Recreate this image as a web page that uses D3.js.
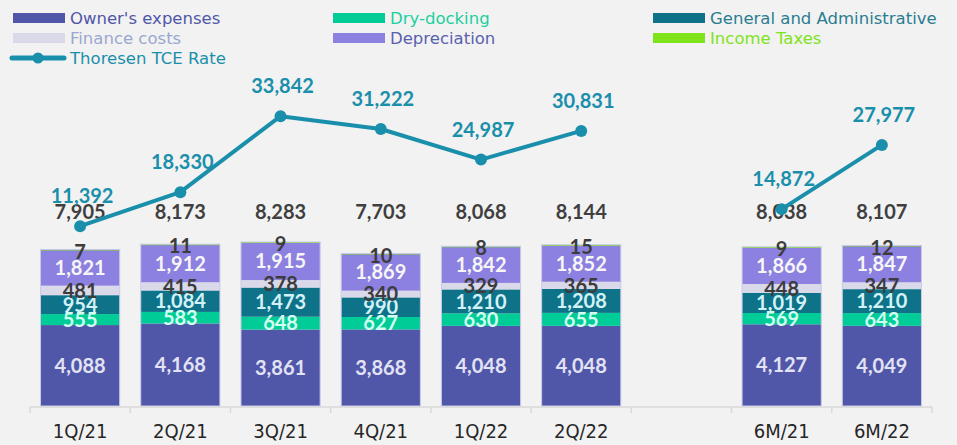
<!DOCTYPE html>
<html>
<head>
<meta charset="utf-8">
<script src="https://cdn.jsdelivr.net/npm/d3@7"></script>
<style>
  html, body { margin: 0; padding: 0; background: #f2f2f2; }
  svg { display: block; }
</style>
</head>
<body>
<div id="chart"></div>
<script>
// categories (the blank slot separates quarters from half-years)
const categories = ['1Q/21', '2Q/21', '3Q/21', '4Q/21', '1Q/22', '2Q/22', ' ', '6M/21', '6M/22'];

// cost components, USD/day
const ownersExpenses = [4088, 4168, 3861, 3868, 4048, 4048, null, 4127, 4049];
const dryDocking     = [555, 583, 648, 627, 630, 655, null, 569, 643];
const generalAdmin   = [954, 1084, 1473, 990, 1210, 1208, null, 1019, 1210];
const financeCosts   = [481, 415, 378, 340, 329, 365, null, 448, 347];
const depreciation   = [1821, 1912, 1915, 1869, 1842, 1852, null, 1866, 1847];
const incomeTaxes    = [7, 11, 9, 10, 8, 15, null, 9, 12];
const totals         = [7905, 8173, 8283, 7703, 8068, 8144, null, 8038, 8107];

// Thoresen TCE rate, USD/day
const tceRate = [11392, 18330, 33842, 31222, 24987, 30831, null, 14872, 27977];

const width = 957;
const height = 445;

const series = [
  { key: 'own', name: "Owner's expenses", values: ownersExpenses, fill: '#5057a8', label: '#e2e2f4', legend: '#5057a8' },
  { key: 'dry', name: 'Dry-docking', values: dryDocking, fill: '#00cc98', label: '#d4fff0', legend: '#1ccf9f' },
  { key: 'ga', name: 'General and Administrative', values: generalAdmin, fill: '#0e7389', label: '#d3f2f7', legend: '#2a7d90' },
  { key: 'fin', name: 'Finance costs', values: financeCosts, fill: '#d9d9ea', label: '#3c3c3c', legend: '#9aa8cf' },
  { key: 'dep', name: 'Depreciation', values: depreciation, fill: '#8c80e0', label: '#f6f6f6', legend: '#5a5fb0' },
  { key: 'tax', name: 'Income Taxes', values: incomeTaxes, fill: '#7ee31a', label: '#3c3c3c', legend: '#7ee31a' }
];

const lineColor = '#1a8fab';

const svg = d3.select('#chart')
  .append('svg')
  .attr('width', width)
  .attr('height', height);

svg.append('rect')
  .attr('width', width)
  .attr('height', height)
  .attr('fill', '#f2f2f2');

// scales
const xScale = d3.scaleBand()
  .domain(categories)
  .range([30, 932])
  .paddingInner(0.21)
  .paddingOuter(0.105);

const yScale = d3.scaleLinear()
  .domain([0, 10000])
  .range([406, 208]);

const y2Scale = d3.scaleLinear()
  .domain([0, 40000])
  .range([282, 86]);

// stacked data
const rows = categories.map((c, i) => {
  const r = { cat: c };
  series.forEach(s => { r[s.key] = s.values[i] == null ? 0 : s.values[i]; });
  return r;
});
const stack = d3.stack().keys(series.map(s => s.key));
const stacked = stack(rows);

const bars = svg.append('g');
stacked.forEach((layer, li) => {
  const s = series[li];
  bars.selectAll('rect.' + s.key)
    .data(layer.filter((d, i) => s.values[i] != null))
    .enter()
    .append('rect')
    .attr('class', s.key)
    .attr('x', d => xScale(d.data.cat))
    .attr('width', xScale.bandwidth())
    .attr('y', d => yScale(d[1]))
    .attr('height', d => Math.max(yScale(d[0]) - yScale(d[1]), 1))
    .attr('fill', s.fill);
});

// thin outline round each bar
bars.selectAll('rect.outline')
  .data(rows.filter((r, i) => totals[i] != null))
  .enter()
  .append('rect')
  .attr('class', 'outline')
  .attr('x', d => xScale(d.cat))
  .attr('width', xScale.bandwidth())
  .attr('y', d => yScale(series.reduce((a, s) => a + d[s.key], 0)))
  .attr('height', d => yScale(0) - yScale(series.reduce((a, s) => a + d[s.key], 0)))
  .attr('fill', 'none')
  .attr('stroke', '#c9c9ec')
  .attr('stroke-width', 1);

// segment labels
const fmt = d3.format(',');
const labels = svg.append('g')
  .attr('font-family', 'Lato, sans-serif')
  .attr('font-weight', 'bold')
  .attr('font-size', 20)
  .attr('text-anchor', 'middle');

stacked.forEach((layer, li) => {
  const s = series[li];
  labels.selectAll('text.' + s.key)
    .data(layer.filter((d, i) => s.values[i] != null))
    .enter()
    .append('text')
    .attr('class', s.key)
    .attr('x', d => xScale(d.data.cat) + xScale.bandwidth() / 2)
    .attr('y', d => s.key === 'tax' ? yScale(d[1]) + 2 : yScale((d[0] + d[1]) / 2))
    .attr('dy', '0.36em')
    .attr('fill', s.label)
    .text(d => fmt(d.data[s.key]));
});

// totals, all on one level above the bars
labels.selectAll('text.total')
  .data(categories.filter((c, i) => totals[i] != null))
  .enter()
  .append('text')
  .attr('class', 'total')
  .attr('x', c => xScale(c) + xScale.bandwidth() / 2)
  .attr('y', yScale(9800))
  .attr('dy', '0.36em')
  .attr('fill', '#3f3f3f')
  .text(c => fmt(totals[categories.indexOf(c)]));

// x axis
const axisG = svg.append('g');
axisG.append('line')
  .attr('x1', xScale.range()[0])
  .attr('x2', xScale.range()[1])
  .attr('y1', yScale(0) + 1)
  .attr('y2', yScale(0) + 1)
  .attr('stroke', '#d9d9d9')
  .attr('stroke-width', 1.5);

const bounds = categories.map(c => xScale(c) - xScale.step() * xScale.paddingInner() / 2)
  .concat([xScale.range()[1]]);
bounds[0] = xScale.range()[0];
axisG.selectAll('line.tick')
  .data(bounds)
  .enter()
  .append('line')
  .attr('class', 'tick')
  .attr('x1', d => d)
  .attr('x2', d => d)
  .attr('y1', yScale(0) + 1)
  .attr('y2', yScale(0) + 7)
  .attr('stroke', '#d9d9d9')
  .attr('stroke-width', 1.5);

const xAxis = d3.axisBottom(xScale).tickSize(0).tickPadding(0);
const xAxisGroup = svg.append('g')
  .attr('transform', `translate(0, ${yScale(0) + 18})`)
  .call(xAxis);
xAxisGroup.select('.domain').remove();
xAxisGroup.selectAll('text')
  .attr('font-family', '"Liberation Sans Narrow", "DejaVu Sans Condensed", sans-serif')
  .attr('font-size', 20)
  .attr('fill', '#262626');

// TCE line
const line = d3.line()
  .defined(d => d.v != null)
  .x(d => xScale(d.cat) + xScale.bandwidth() / 2)
  .y(d => y2Scale(d.v));

const lineData = categories.map((c, i) => ({ cat: c, v: tceRate[i] }));

svg.append('path')
  .datum(lineData)
  .attr('fill', 'none')
  .attr('stroke', lineColor)
  .attr('stroke-width', 4)
  .attr('stroke-linejoin', 'round')
  .attr('d', line);

svg.selectAll('circle.tce')
  .data(lineData.filter(d => d.v != null))
  .enter()
  .append('circle')
  .attr('class', 'tce')
  .attr('cx', d => xScale(d.cat) + xScale.bandwidth() / 2)
  .attr('cy', d => y2Scale(d.v))
  .attr('r', 6)
  .attr('fill', lineColor);

svg.selectAll('text.tce')
  .data(lineData.filter(d => d.v != null))
  .enter()
  .append('text')
  .attr('class', 'tce')
  .attr('x', d => xScale(d.cat) + xScale.bandwidth() / 2 + 2)
  .attr('y', d => y2Scale(d.v) - 30)
  .attr('dy', '0.36em')
  .attr('text-anchor', 'middle')
  .attr('font-family', 'Lato, sans-serif')
  .attr('font-weight', 'bold')
  .attr('font-size', 20)
  .attr('fill', lineColor)
  .text(d => fmt(d.v));

// legend
const legendItems = [
  { s: series[0], col: 0, row: 0 },
  { s: series[1], col: 1, row: 0 },
  { s: series[2], col: 2, row: 0 },
  { s: series[3], col: 0, row: 1 },
  { s: series[4], col: 1, row: 1 },
  { s: series[5], col: 2, row: 1 }
];
const colX = [13, 333, 653];
const rowY = [18, 38, 58];

const legend = svg.append('g')
  .attr('font-family', '"DejaVu Sans", sans-serif')
  .attr('font-size', 16.5);

legendItems.forEach(it => {
  legend.append('rect')
    .attr('x', colX[it.col])
    .attr('y', rowY[it.row] - 5)
    .attr('width', 52)
    .attr('height', 10)
    .attr('fill', it.s.fill);
  legend.append('text')
    .attr('x', colX[it.col] + 57)
    .attr('y', rowY[it.row])
    .attr('dy', '0.35em')
    .attr('fill', it.s.legend)
    .text(it.s.name);
});

legend.append('line')
  .attr('x1', 12)
  .attr('x2', 64)
  .attr('y1', rowY[2])
  .attr('y2', rowY[2])
  .attr('stroke', lineColor)
  .attr('stroke-width', 5)
  .attr('stroke-linecap', 'round');
legend.append('circle')
  .attr('cx', 38)
  .attr('cy', rowY[2])
  .attr('r', 5.5)
  .attr('fill', lineColor);
legend.append('text')
  .attr('x', colX[0] + 57)
  .attr('y', rowY[2])
  .attr('dy', '0.35em')
  .attr('fill', lineColor)
  .text('Thoresen TCE Rate');
</script>
</body>
</html>
